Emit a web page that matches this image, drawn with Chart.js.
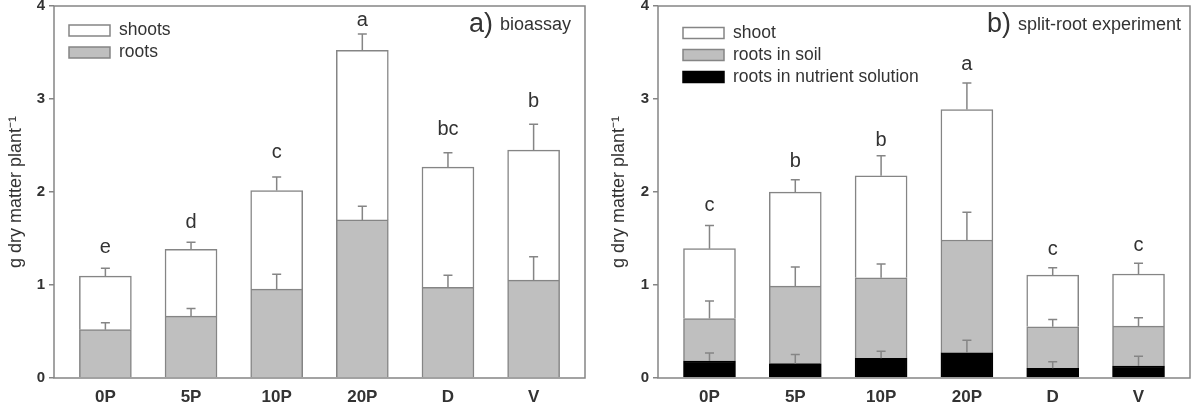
<!DOCTYPE html>
<html>
<head>
<meta charset="utf-8">
<script src="https://cdn.jsdelivr.net/npm/chart.js@4.4.1/dist/chart.umd.min.js"></script>
<style>
  body { margin: 0; background: #fff; }
  canvas { position: absolute; top: 0; }
  #chartA { left: 0; }
  #chartB { left: 600px; }
</style>
</head>
<body>
<canvas id="chartA" width="600" height="407"></canvas>
<canvas id="chartB" width="599" height="407"></canvas>
<script>
// categories
const cats = ['0P', '5P', '10P', '20P', 'D', 'V'];
const yTicks = [0, 1, 2, 3, 4];

// a) bioassay
const aRoots = [0.52, 0.665, 0.956, 1.70, 0.974, 1.053];
const aShoots = [0.576, 0.719, 1.06, 1.822, 1.294, 1.398];
const aRootsErr = [0.075, 0.083, 0.16, 0.147, 0.13, 0.25];
const aShootsErr = [0.083, 0.075, 0.144, 0.176, 0.154, 0.277];
const aLetters = ['e', 'd', 'c', 'a', 'bc', 'b'];
const aLetterY = [1.405, 1.67, 2.42, 3.84, 2.67, 2.976];

// b) split-root experiment
const bNutr = [0.183, 0.155, 0.212, 0.27, 0.104, 0.129];
const bSoil = [0.457, 0.833, 0.866, 1.214, 0.446, 0.428];
const bShoot = [0.751, 1.01, 1.096, 1.402, 0.557, 0.561];
const bNutrErr = [0.087, 0.097, 0.075, 0.136, 0.072, 0.105];
const bSoilErr = [0.187, 0.205, 0.148, 0.299, 0.079, 0.09];
const bShootErr = [0.248, 0.133, 0.216, 0.287, 0.079, 0.115];
const bLetters = ['c', 'b', 'b', 'a', 'c', 'c'];
const bLetterY = [1.855, 2.33, 2.555, 3.37, 1.384, 1.42];

const FONT = 'Liberation Sans, Arial, sans-serif';
const TXT = '#333';
const LINE = '#858585';

function pts(arr) {
  return arr.map((v, i) => ({ x: i, y: v }));
}

// error bars, letters, frame, legend and panel label
const extras = {
  id: 'extras',
  afterDatasetsDraw(chart, args, o) {
    const ctx = chart.ctx;
    const ys = chart.scales.y;
    const area = chart.chartArea;
    const sets = chart.data.datasets;
    ctx.save();

    // error bars (upper half only)
    ctx.strokeStyle = LINE;
    ctx.lineWidth = 1.5;
    o.errs.forEach((err, d) => {
      const meta = chart.getDatasetMeta(d);
      meta.data.forEach((bar, i) => {
        let base = 0;
        for (let k = 0; k <= d; k++) base += sets[k].data[i].y;
        const y1 = ys.getPixelForValue(base);
        const y2 = ys.getPixelForValue(base + err[i]);
        ctx.beginPath();
        ctx.moveTo(bar.x, y1);
        ctx.lineTo(bar.x, y2);
        ctx.moveTo(bar.x - 4.5, y2);
        ctx.lineTo(bar.x + 4.5, y2);
        ctx.stroke();
      });
    });

    // significance letters
    ctx.fillStyle = TXT;
    ctx.font = '20px ' + FONT;
    ctx.textAlign = 'center';
    ctx.textBaseline = 'middle';
    const meta0 = chart.getDatasetMeta(0);
    o.letters.forEach((t, i) => {
      ctx.fillText(t, meta0.data[i].x, ys.getPixelForValue(o.letterY[i]));
    });

    // box round the plot
    ctx.strokeStyle = LINE;
    ctx.lineWidth = 1.5;
    ctx.strokeRect(area.left, area.top, area.right - area.left, area.bottom - area.top);

    // legend
    ctx.textAlign = 'left';
    ctx.font = '17.5px ' + FONT;
    const items = sets.slice().reverse();
    items.forEach((ds, r) => {
      const cy = o.legend.y + r * 22;
      ctx.fillStyle = ds.backgroundColor;
      ctx.fillRect(o.legend.x, cy - 5.5, 41, 11);
      ctx.strokeStyle = ds.borderColor;
      ctx.lineWidth = 1.5;
      ctx.strokeRect(o.legend.x, cy - 5.5, 41, 11);
      ctx.fillStyle = TXT;
      ctx.fillText(ds.label, o.legend.x + 50, cy);
    });

    // panel label
    ctx.textBaseline = 'alphabetic';
    ctx.font = '27px ' + FONT;
    ctx.fillText(o.panel.tag, o.panel.x, 31.5);
    ctx.font = '18px ' + FONT;
    ctx.fillText(o.panel.text, o.panel.x2, 29.5);
    ctx.restore();
  }
};

function makeChart(id, datasets, cfg) {
  return new Chart(document.getElementById(id), {
    type: 'bar',
    data: { datasets: datasets },
    plugins: [extras],
    options: {
      responsive: false,
      animation: false,
      layout: { padding: { left: 0, right: cfg.padRight, top: 6, bottom: 0 } },
      datasets: { bar: { barThickness: 52, borderWidth: 1.5 } },
      plugins: {
        legend: { display: false },
        tooltip: { enabled: false },
        extras: cfg
      },
      scales: {
        x: {
          type: 'linear',
          stacked: true,
          offset: false,
          min: -0.6,
          max: 5.6,
          afterBuildTicks: (s) => { s.ticks = cats.map((c, i) => ({ value: i })); },
          afterFit: (s) => { s.height = 29; s.paddingLeft = 0; s.paddingRight = 0; },
          grid: { display: false },
          border: { display: false },
          ticks: {
            autoSkip: false,
            maxRotation: 0,
            padding: 1,
            color: TXT,
            font: { family: FONT, size: 17, weight: 'bold' },
            callback: (v) => cats[v]
          }
        },
        y: {
          stacked: true,
          min: 0,
          max: 4,
          afterBuildTicks: (s) => { s.ticks = yTicks.map((v) => ({ value: v })); },
          afterFit: (s) => { s.width = cfg.areaLeft; s.paddingTop = 0; s.paddingBottom = 0; },
          grid: { drawOnChartArea: false, tickLength: 5, color: LINE, lineWidth: 1.5 },
          border: { display: false },
          ticks: {
            padding: 4,
            color: TXT,
            font: { family: FONT, size: 15, weight: 'bold' }
          },
          title: {
            display: true,
            text: 'g dry matter plant⁻¹',
            color: TXT,
            font: { family: FONT, size: 18 },
            padding: { top: cfg.titlePad, bottom: 0 }
          }
        }
      }
    }
  });
}

makeChart('chartA', [
  { label: 'roots', data: pts(aRoots), backgroundColor: '#bfbfbf', borderColor: LINE },
  { label: 'shoots', data: pts(aShoots), backgroundColor: '#ffffff', borderColor: LINE }
], {
  areaLeft: 54, padRight: 15, titlePad: 5,
  errs: [aRootsErr, aShootsErr],
  letters: aLetters, letterY: aLetterY,
  legend: { x: 69, y: 30.5 },
  panel: { tag: 'a)', x: 469, text: 'bioassay', x2: 500 }
});

makeChart('chartB', [
  { label: 'roots in nutrient solution', data: pts(bNutr), backgroundColor: '#000000', borderColor: '#000000' },
  { label: 'roots in soil', data: pts(bSoil), backgroundColor: '#bfbfbf', borderColor: LINE },
  { label: 'shoot', data: pts(bShoot), backgroundColor: '#ffffff', borderColor: LINE }
], {
  areaLeft: 58, padRight: 9, titlePad: 8,
  errs: [bNutrErr, bSoilErr, bShootErr],
  letters: bLetters, letterY: bLetterY,
  legend: { x: 83, y: 33 },
  panel: { tag: 'b)', x: 387, text: 'split-root experiment', x2: 418 }
});
</script>
</body>
</html>
